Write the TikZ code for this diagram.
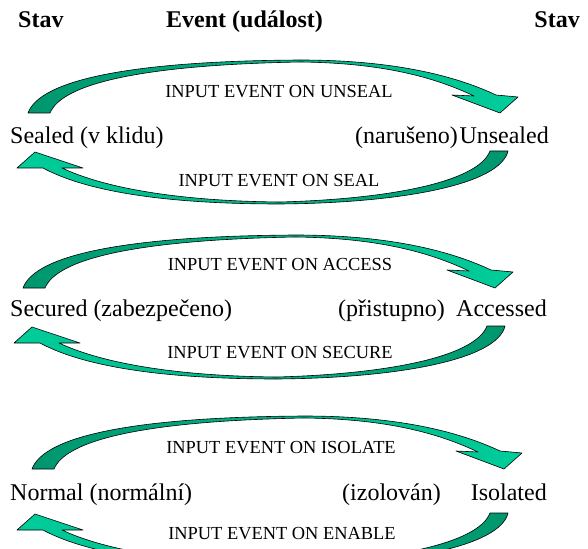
\documentclass[tikz,border=0pt]{standalone}
\usepackage{fontspec}
\setmainfont{Liberation Serif}
\definecolor{ardark}{RGB}{0,150,110}
\definecolor{arlight}{RGB}{0,206,155}
\tikzset{
  txtbig/.style={font=\fontsize{24bp}{28bp}\selectfont, inner sep=0pt},
  txthdr/.style={font=\bfseries\fontsize{24bp}{28bp}\selectfont, inner sep=0pt},
  txtsmall/.style={font=\fontsize{18.4bp}{22bp}\selectfont, inner sep=0pt, anchor=base},
  arband/.style={draw=black, line width=0.6bp, line join=round},
  toparrow/.pic={
    \path[arband, left color=ardark, right color=arlight]
      (28,113) .. controls (40,80) and (130,61) .. (300,60)
      .. controls (400,60) and (460,78) .. (496,95)
      -- (518,97) -- (500,113) -- (452,95) -- (474,96)
      .. controls (440,80) and (390,63) .. (300,62)
      .. controls (140,65) and (62,84) .. (50,113) -- cycle;
  },
  botarrow/.pic={
    \path[arband, left color=arlight, right color=ardark]
      (508,151) .. controls (500,185) and (400,203) .. (280,204)
      .. controls (150,204) and (80,188) .. (43,168)
      -- (17,168) -- (35,152) -- (83,168) -- (62,168)
      .. controls (100,186) and (170,201) .. (280,202)
      .. controls (390,199) and (478,182) .. (490,151) -- cycle;
  }
}
\begin{document}
\begin{tikzpicture}[x=1bp,y=-1bp]
\useasboundingbox (0,0) rectangle (588,549);
\clip (0,0) rectangle (588,549);
% headings
\node[txthdr, anchor=base west] (h1) at (18,28) {Stav};
\node[txthdr, anchor=base west] (h2) at (166,28) {Event (událost)};
\node[txthdr, anchor=base east] (h3) at (580,28) {Stav};
% row 1
\pic at (0,0) {toparrow};
\pic at (0,0) {botarrow};
\node[txtsmall] (l1a) at (279,97.5) {INPUT EVENT ON UNSEAL};
\node[txtbig, anchor=base west] (s1) at (10,144) {Sealed (v klidu)};
\node[txtbig, anchor=base east] (c1) at (458,144) {(narušeno)};
\node[txtbig, anchor=base east] (t1) at (549,144) {Unsealed};
\node[txtsmall] (l1b) at (279,186.5) {INPUT EVENT ON SEAL};
% row 2
\pic at (-5,175) {toparrow};
\pic at (-3,175) {botarrow};
\node[txtsmall] (l2a) at (280,270) {INPUT EVENT ON ACCESS};
\node[txtbig, anchor=base west] (s2) at (10,316) {Secured (zabezpečeno)};
\node[txtbig, anchor=base east] (c2) at (445,316) {(přistupno)};
\node[txtbig, anchor=base east] (t2) at (547,316) {Accessed};
\node[txtsmall] (l2b) at (280,358) {INPUT EVENT ON SECURE};
% row 3
\pic at (4,356) {toparrow};
\pic at (0,362) {botarrow};
\node[txtsmall] (l3a) at (281,453.5) {INPUT EVENT ON ISOLATE};
\node[txtbig, anchor=base west] (s3) at (10,500) {Normal (normální)};
\node[txtbig, anchor=base east] (c3) at (441,500) {(izolován)};
\node[txtbig, anchor=base east] (t3) at (547,500) {Isolated};
\node[txtsmall] (l3b) at (282,539) {INPUT EVENT ON ENABLE};
\end{tikzpicture}
\end{document}
